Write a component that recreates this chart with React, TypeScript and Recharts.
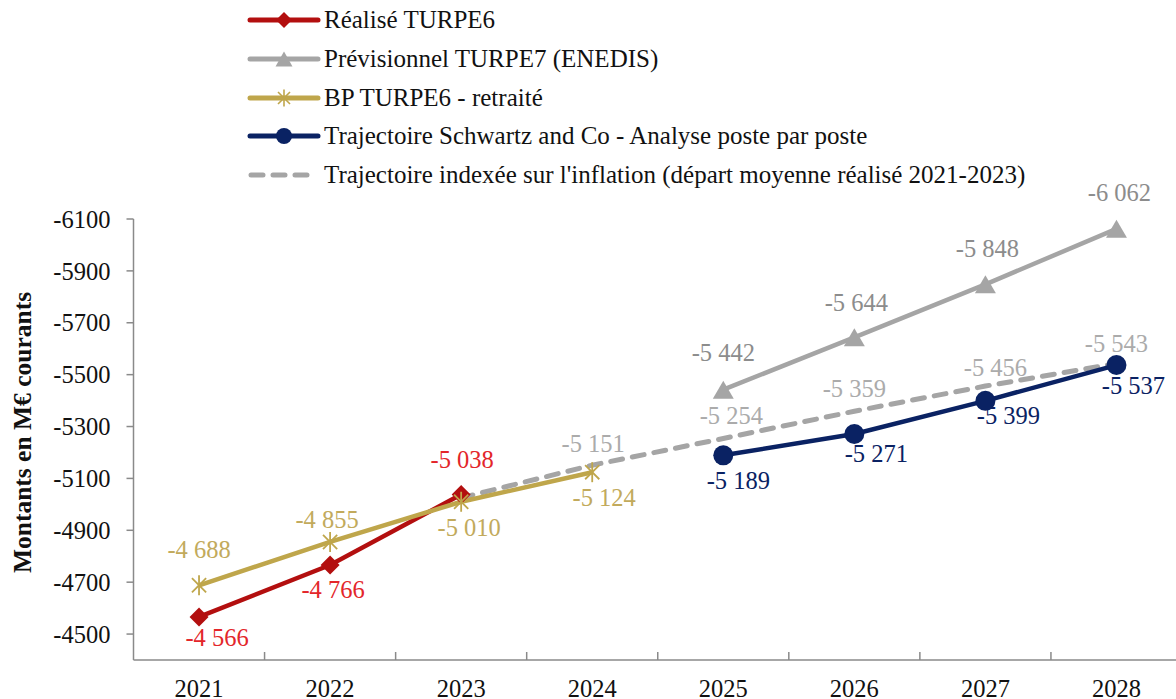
import React from 'react';
import { LineChart, Line, XAxis, YAxis, Legend, LabelList } from 'recharts';

const years = [2021, 2022, 2023, 2024, 2025, 2026, 2027, 2028];
const realise = [-4566, -4766, -5038, null, null, null, null, null];
const previsionnel = [null, null, null, null, -5442, -5644, -5848, -6062];
const bpRetraite = [-4688, -4855, -5010, -5124, null, null, null, null];
const schwartz = [null, null, null, null, -5189, -5271, -5399, -5537];
const inflation = [null, null, -5025, -5151, -5254, -5359, -5456, -5543];
const inflationUnlabelledYears = [2023];
const yTicks = [-4500, -4700, -4900, -5100, -5300, -5500, -5700, -5900, -6100];

const seriesNames = {
  realise: 'Réalisé TURPE6',
  previsionnel: 'Prévisionnel TURPE7 (ENEDIS)',
  bp: 'BP TURPE6 - retraité',
  schwartz: 'Trajectoire Schwartz and Co - Analyse poste par poste',
  inflation: "Trajectoire indexée sur l'inflation (départ moyenne réalisé 2021-2023)",
};

const data = years.map((year, i) => ({
  year,
  realise: realise[i],
  previsionnel: previsionnel[i],
  bp: bpRetraite[i],
  schwartz: schwartz[i],
  inflation: inflation[i],
}));

const xTicks = years.flatMap((y, i) => (i < years.length - 1 ? [y, y + 0.5] : [y]));

const FONT = 'Liberation Serif, Times New Roman, serif';
const RED = '#B30F0F';
const RED_LABEL = '#E3262A';
const GREY = '#A5A5A5';
const GREY_LABEL = '#8C8C8C';
const GREY_LIGHT_LABEL = '#ABABAB';
const GOLD = '#BFA64B';
const GOLD_LABEL = '#C2AA5C';
const NAVY = '#0A2263';
const AXIS = '#8A8A8A';
const LABEL_SIZE = 24.5;

const fmt = (v: number) => {
  const s = Math.abs(Math.round(v)).toString().replace(/\B(?=(\d{3})+(?!\d))/g, ' ');
  return (v < 0 ? '-' : '') + s;
};

// label offsets (dx, dy) per point index, styling only
const offRealise: Record<number, [number, number]> = { 0: [18, 21], 1: [3, 24], 2: [1, -35] };
const offBp: Record<number, [number, number]> = { 0: [0, -36], 1: [-3, -22], 2: [8, 26], 3: [12, 25] };
const offPrev: Record<number, [number, number]> = { 4: [0, -37], 5: [2, -35], 6: [2, -36], 7: [3, -36] };
const offSchwartz: Record<number, [number, number]> = { 4: [15, 25], 5: [22, 19], 6: [23, 15], 7: [17, 20] };
const offInfl: Record<number, [number, number]> = { 3: [1, -22], 4: [8, -23], 5: [0, -23], 6: [10, -19], 7: [0, -20] };

const makeLabel = (color: string, offs: Record<number, [number, number]>, skipYears: number[] = []) =>
  (p: any) => {
    const { value, index } = p;
    const x = p.x ?? p.viewBox?.x;
    const y = p.y ?? p.viewBox?.y;
    if (value == null || x == null || y == null) return null;
    if (skipYears.includes(years[index])) return null;
    const [dx, dy] = offs[index] ?? [0, -22];
    return (
      <text
        key={`l-${index}`}
        x={x + dx}
        y={y + dy}
        textAnchor="middle"
        dominantBaseline="central"
        fill={color}
        fontSize={LABEL_SIZE}
        fontFamily={FONT}
      >
        {fmt(value)}
      </text>
    );
  };

const diamondPath = (cx: number, cy: number, s: number) =>
  `M${cx},${cy - s}L${cx + s},${cy}L${cx},${cy + s}L${cx - s},${cy}Z`;
const trianglePath = (cx: number, cy: number, w: number, h: number) =>
  `M${cx},${cy - h / 2}L${cx + w / 2},${cy + h / 2}L${cx - w / 2},${cy + h / 2}Z`;
const starLines = (cx: number, cy: number, r: number, color: string, sw: number) => {
  const a = r * Math.cos(Math.PI / 4);
  return (
    <g stroke={color} strokeWidth={sw}>
      <line x1={cx} y1={cy - r} x2={cx} y2={cy + r} />
      <line x1={cx - a} y1={cy - a} x2={cx + a} y2={cy + a} />
      <line x1={cx - a} y1={cy + a} x2={cx + a} y2={cy - a} />
    </g>
  );
};

const dotOf = (kind: string) => (p: any) => {
  const { cx, cy, index, value } = p;
  const key = `${kind}-${index}`;
  if (cx == null || cy == null || value == null) return <g key={key} />;
  if (kind === 'diamond') return <path key={key} d={diamondPath(cx, cy, 9.5)} fill={RED} />;
  if (kind === 'triangle') return <path key={key} d={trianglePath(cx, cy, 21, 18)} fill={GREY} />;
  if (kind === 'star') return <g key={key}>{starLines(cx, cy, 10, GOLD, 1.8)}</g>;
  if (kind === 'circle') return <circle key={key} cx={cx} cy={cy} r={10} fill={NAVY} />;
  return <g key={key} />;
};

const legendItems = [
  { name: seriesNames.realise, color: RED, marker: 'diamond' },
  { name: seriesNames.previsionnel, color: GREY, marker: 'triangle' },
  { name: seriesNames.bp, color: GOLD, marker: 'star' },
  { name: seriesNames.schwartz, color: NAVY, marker: 'circle' },
  { name: seriesNames.inflation, color: GREY, marker: 'dash' },
];

const LegendMarker = ({ color, marker }: { color: string; marker: string }) => (
  <svg width={74} height={24} style={{ display: 'block', overflow: 'visible', flex: '0 0 auto' }}>
    {marker === 'dash' ? (
      <line x1={4} y1={12} x2={70} y2={12} stroke={color} strokeWidth={5} strokeDasharray="12 10" strokeLinecap="round" />
    ) : (
      <line x1={3} y1={12} x2={71} y2={12} stroke={color} strokeWidth={5} strokeLinecap="round" />
    )}
    {marker === 'diamond' && <path d={diamondPath(37, 12, 8)} fill={color} />}
    {marker === 'triangle' && <path d={trianglePath(37, 12, 17, 15)} fill={color} />}
    {marker === 'star' && starLines(37, 12, 8.5, color, 1.6)}
    {marker === 'circle' && <circle cx={37} cy={12} r={8} fill={color} />}
  </svg>
);

const renderLegend = () => (
  <div style={{ fontFamily: FONT, fontSize: 25, color: '#111' }}>
    {legendItems.map((it) => (
      <div key={it.name} style={{ display: 'flex', alignItems: 'center', height: 38.7, whiteSpace: 'nowrap' }}>
        <LegendMarker color={it.color} marker={it.marker} />
        <span style={{ marginLeft: 3, lineHeight: '26px' }}>{it.name}</span>
      </div>
    ))}
  </div>
);

const XTick = (p: any) => {
  const { x, y, payload } = p;
  const v = payload.value;
  if (Number.isInteger(v)) {
    return (
      <text x={x} y={y + 37} textAnchor="middle" fill="#111" fontSize={24.5} fontFamily={FONT}>
        {v}
      </text>
    );
  }
  return <line x1={x} y1={y} x2={x} y2={y - 8} stroke={AXIS} strokeWidth={1.5} />;
};

const YTitle = (p: any) => {
  const vb = p.viewBox || {};
  const cy = (vb.y ?? 219) + (vb.height ?? 441) / 2 - 7;
  return (
    <text
      transform={`translate(22, ${cy}) rotate(-90)`}
      textAnchor="middle"
      dominantBaseline="central"
      fontFamily={FONT}
      fontSize={25.5}
      fontWeight="bold"
      fill="#111"
    >
      Montants en M€ courants
    </text>
  );
};

export default function App() {
  return (
    <div style={{ position: 'fixed', left: 0, top: 0, width: 1176, height: 699, overflow: 'hidden', background: '#fff' }}>
      <LineChart width={1200} height={699} data={data} margin={{ top: 219, right: 18, bottom: 0, left: 0 }}>
        <XAxis
          dataKey="year"
          type="number"
          domain={[2020.5, 2028.5]}
          ticks={xTicks}
          interval={0}
          tickSize={0}
          tickMargin={0}
          tickLine={false}
          axisLine={{ stroke: AXIS, strokeWidth: 1.5 }}
          tick={<XTick />}
          height={39}
          allowDecimals
        />
        <YAxis
          type="number"
          domain={[-6100, -4400]}
          reversed
          ticks={yTicks}
          interval={0}
          width={133.5}
          tickSize={7}
          tickMargin={16}
          tickLine={{ stroke: AXIS, strokeWidth: 1.5 }}
          axisLine={{ stroke: AXIS, strokeWidth: 1.5 }}
          tick={{ fill: '#111', fontSize: 24.5, fontFamily: FONT }}
          label={{ content: <YTitle /> }}
        />
        <Legend
          layout="vertical"
          align="center"
          verticalAlign="middle"
          wrapperStyle={{ top: 1, left: 247, width: 920 }}
          content={renderLegend}
        />
        <Line
          dataKey="realise"
          stroke={RED}
          strokeWidth={4.5}
          dot={dotOf('diamond')}
          activeDot={false}
          isAnimationActive={false}
        >
          <LabelList dataKey="realise" content={makeLabel(RED_LABEL, offRealise)} />
        </Line>
        <Line
          dataKey="previsionnel"
          stroke={GREY}
          strokeWidth={4.5}
          dot={dotOf('triangle')}
          activeDot={false}
          isAnimationActive={false}
        >
          <LabelList dataKey="previsionnel" content={makeLabel(GREY_LABEL, offPrev)} />
        </Line>
        <Line
          dataKey="inflation"
          stroke={GREY}
          strokeWidth={5}
          strokeDasharray="12 10"
          strokeLinecap="round"
          dot={false}
          activeDot={false}
          isAnimationActive={false}
        >
          <LabelList dataKey="inflation" content={makeLabel(GREY_LIGHT_LABEL, offInfl, inflationUnlabelledYears)} />
        </Line>
        <Line
          dataKey="bp"
          stroke={GOLD}
          strokeWidth={4.5}
          dot={dotOf('star')}
          activeDot={false}
          isAnimationActive={false}
        >
          <LabelList dataKey="bp" content={makeLabel(GOLD_LABEL, offBp)} />
        </Line>
        <Line
          dataKey="schwartz"
          stroke={NAVY}
          strokeWidth={4.5}
          dot={dotOf('circle')}
          activeDot={false}
          isAnimationActive={false}
        >
          <LabelList dataKey="schwartz" content={makeLabel(NAVY, offSchwartz)} />
        </Line>
      </LineChart>
    </div>
  );
}
